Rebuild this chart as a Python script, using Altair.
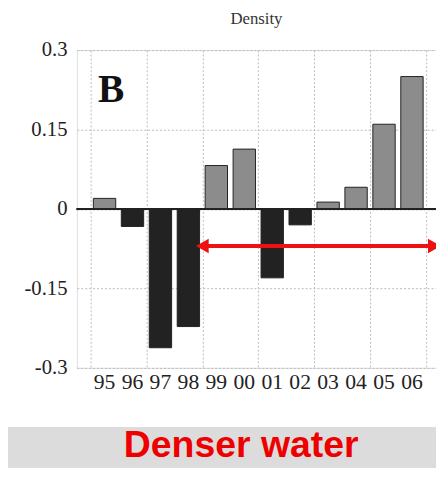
import altair as alt
import pandas as pd

years = ["95", "96", "97", "98", "99", "00", "01", "02", "03", "04", "05", "06"]
density = [0.02, -0.033, -0.262, -0.222, 0.082, 0.113, -0.13, -0.03, 0.013, 0.041, 0.16, 0.25]

df = pd.DataFrame({"year": years, "value": density})
df["pos"] = [i + 0.5 for i in range(len(years))]
df["lo"] = df["pos"] - 0.4
df["hi"] = df["pos"] + 0.4
df["sign"] = ["pos" if v >= 0 else "neg" for v in density]

serif = "'Liberation Serif', 'DejaVu Serif', serif"
xs = alt.Scale(domain=[-0.49, 12.36], nice=False, zero=False)
ys = alt.Scale(domain=[-0.3, 0.3], nice=False)

bars = alt.Chart(df).mark_rect(stroke="#222", strokeWidth=1).encode(
    x=alt.X("lo:Q", scale=xs, axis=alt.Axis(values=list(range(13)), labels=False, ticks=False,
                                              domain=False, gridDash=[2, 2], gridColor="#bbb", title=None)),
    x2="hi:Q",
    y=alt.Y("value:Q", scale=ys, axis=alt.Axis(values=[-0.3, -0.15, 0, 0.15, 0.3], title=None,
                                                labelExpr="toString(datum.value)",
                                                labelFont=serif, labelFontSize=21, labelColor="#222",
                                                ticks=False, domain=False, labelPadding=10,
                                                gridDash=[2, 2], gridColor="#bbb")),
    y2=alt.datum(0),
    color=alt.Color("sign:N", scale=alt.Scale(domain=["pos", "neg"], range=["#8c8c8c", "#222222"]), legend=None),
)

zero = alt.Chart(df).mark_rule(color="#222", strokeWidth=1.5).encode(y=alt.datum(0))

labels = alt.Chart(df).mark_text(font=serif, fontSize=22, color="#222", baseline="top").encode(
    x=alt.X("pos:Q", scale=xs), y=alt.value(327), text="year:N")

letter = alt.Chart(df.head(1)).mark_text(font=serif, fontSize=40, fontWeight="bold", color="#111").encode(
    x=alt.datum(0.74), y=alt.datum(0.224), text=alt.value("B"))

arrow_df = pd.DataFrame({"x": [4.0], "x2": [12.3], "y": [-0.07]})
arrow = alt.Chart(arrow_df).mark_rule(color="#ee1111", strokeWidth=4).encode(
    x=alt.X("x:Q", scale=xs), x2="x2:Q", y=alt.Y("y:Q", scale=ys))
head_l = alt.Chart(arrow_df).mark_point(shape="triangle-left", filled=True, size=220, color="#ee1111", opacity=1).encode(
    x=alt.X("x:Q", scale=xs), y=alt.Y("y:Q", scale=ys))
head_r = alt.Chart(arrow_df).mark_point(shape="triangle-right", filled=True, size=220, color="#ee1111", opacity=1).encode(
    x=alt.X("x2:Q", scale=xs), y=alt.Y("y:Q", scale=ys))

band = alt.Chart(df.head(1)).mark_rect(color="#dcdcdc").encode(
    x=alt.value(-80), x2=alt.value(370), y=alt.value(383), y2=alt.value(440))
caption = alt.Chart(df.head(1)).mark_text(font="Liberation Sans", fontSize=38, fontWeight="bold",
                                          color="#ee0000", baseline="middle").encode(
    x=alt.value(167), y=alt.value(403), text=alt.value("Denser water"))

chart = alt.layer(bars, zero, labels, letter, arrow, head_l, head_r, band, caption).properties(
    width=365, height=323, padding={"left": 70, "top": 39, "right": 0, "bottom": 98},
    autosize=alt.AutoSizeParams(type="none"),
    title=alt.Title("Density", font=serif, fontSize=17, fontWeight="normal", color="#333", offset=12),
).configure_view(stroke="#222", strokeWidth=1.5).configure(background="white")

chart.save("out.html", embed_options={"renderer": "svg", "actions": False})
